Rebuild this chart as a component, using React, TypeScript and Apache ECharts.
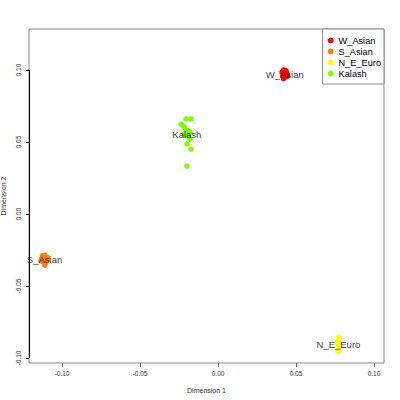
import React, { useEffect, useRef } from "react";
import * as echarts from "echarts";

const groups = ["W_Asian", "S_Asian", "N_E_Euro", "Kalash"];
const colors = ["#FF0000", "#FF7F00", "#FFFF00", "#7FFF00"];

const wAsian = [
  [0.042, 0.1], [0.0435, 0.0995], [0.041, 0.0985], [0.044, 0.0975], [0.0425, 0.097],
  [0.0415, 0.096], [0.0445, 0.096], [0.043, 0.095], [0.042, 0.094], [0.0438, 0.0985],
];
const sAsian = [
  [-0.1125, -0.029], [-0.111, -0.0285], [-0.11, -0.03], [-0.113, -0.031], [-0.1115, -0.032],
  [-0.1095, -0.032], [-0.112, -0.0335], [-0.1105, -0.034], [-0.111, -0.0355], [-0.1135, -0.0325],
  [-0.109, -0.0305],
];
const neEuro = [
  [0.077, -0.0855], [0.0775, -0.087], [0.0768, -0.0885], [0.0778, -0.0895], [0.077, -0.0905],
  [0.0775, -0.0915], [0.0768, -0.093], [0.0772, -0.0945], [0.077, -0.0955],
];
const kalash = [
  [-0.0205, 0.066], [-0.0173, 0.066], [-0.0237, 0.0625], [-0.0224, 0.061], [-0.0215, 0.06],
  [-0.0199, 0.058], [-0.018, 0.057], [-0.022, 0.0556], [-0.0205, 0.0545], [-0.019, 0.054],
  [-0.018, 0.052], [-0.02, 0.0486], [-0.0173, 0.045], [-0.02, 0.0333],
];
const groupData = [wAsian, sAsian, neEuro, kalash];

const xTicks = [-0.1, -0.05, 0, 0.05, 0.1];
const yTicks = [-0.1, -0.05, 0, 0.05, 0.1];
const xRange = [-0.1212, 0.1064];
const yRange = [-0.1035, 0.1285];

const fmt = (v: number) => v.toFixed(2);

export default function App() {
  const ref = useRef<HTMLDivElement>(null);
  useEffect(() => {
    document.body.style.margin = "0";
    const chart = echarts.init(ref.current!, null, { renderer: "svg" });
    const centroids = groupData.map((pts) => {
      const sx = pts.reduce((a, p) => a + p[0], 0) / pts.length;
      const sy = pts.reduce((a, p) => a + p[1], 0) / pts.length;
      return [sx, sy];
    });
    const font = "Liberation Sans, Arial, sans-serif";
    chart.setOption({
      animation: false,
      textStyle: { fontFamily: font },
      grid: {
        left: 29, top: 29, right: 16, bottom: 37,
        containLabel: false,
        outerBoundsMode: "none",
        show: true, borderColor: "#888", borderWidth: 1, backgroundColor: "transparent",
      },
      legend: {
        data: groups.map((g, i) => ({ name: g, itemStyle: { color: colors[i] } })),
        orient: "vertical",
        right: 16,
        top: 29,
        icon: "circle",
        itemWidth: 6,
        itemHeight: 6,
        itemGap: 2,
        padding: [7, 3, 6, 5],
        borderColor: "#888",
        borderWidth: 1,
        borderRadius: 0,
        backgroundColor: "#fff",
        textStyle: { fontSize: 9.2, color: "#000", fontFamily: font, padding: [0, 0, 0, 0] },
      },
      xAxis: {
        type: "value",
        min: xRange[0],
        max: xRange[1],
        name: "Dimension 1",
        nameLocation: "middle",
        nameGap: 24,
        nameTextStyle: { fontSize: 7, color: "#333", fontFamily: font },
        axisLine: { show: false, onZero: false },
        splitLine: { show: false },
        axisTick: { show: true, length: 4, inside: false, lineStyle: { color: "#666" }, customValues: xTicks },
        axisLabel: { fontSize: 6.5, color: "#333", margin: 7, customValues: xTicks, formatter: fmt },
      },
      yAxis: {
        type: "value",
        min: yRange[0],
        max: yRange[1],
        name: "Dimension 2",
        nameLocation: "middle",
        nameGap: 20,
        nameTextStyle: { fontSize: 7, color: "#333", fontFamily: font },
        axisLine: { show: false, onZero: false },
        splitLine: { show: false },
        axisTick: { show: true, length: 3, lineStyle: { color: "#000" }, customValues: yTicks },
        axisLabel: { fontSize: 6.5, color: "#333", rotate: 90, margin: 7, align: "center", customValues: yTicks, formatter: fmt },
      },
      series: [
        ...groups.map((g, i) => ({
          type: "scatter",
          name: g,
          data: groupData[i],
          symbol: "circle",
          symbolSize: 5.5,
          itemStyle: { color: colors[i], opacity: 1 },
          z: 2,
          ...(i === 0
            ? {
                markLine: {
                  silent: true,
                  symbol: "none",
                  label: { show: false },
                  lineStyle: { color: "#000", width: 1, type: "solid" },
                  data: [[{ coord: [xRange[0], yTicks[0]] }, { coord: [xRange[0], yTicks[yTicks.length - 1]] }]],
                },
              }
            : {}),
        })),
        {
          type: "scatter",
          name: "labels",
          data: groups.map((g, i) => ({ name: g, value: centroids[i] })),
          symbolSize: 0,
          itemStyle: { color: "#000" },
          z: 3,
          label: {
            show: true,
            position: "inside",
            formatter: (p: any) => p.name,
            fontSize: 9.5,
            color: "#000",
            textBorderWidth: 0,
            textBorderColor: "transparent",
            fontFamily: font,
          },
        },
      ],
    });
    return () => chart.dispose();
  }, []);
  return <div ref={ref} style={{ width: 400, height: 400 }} />;
}
